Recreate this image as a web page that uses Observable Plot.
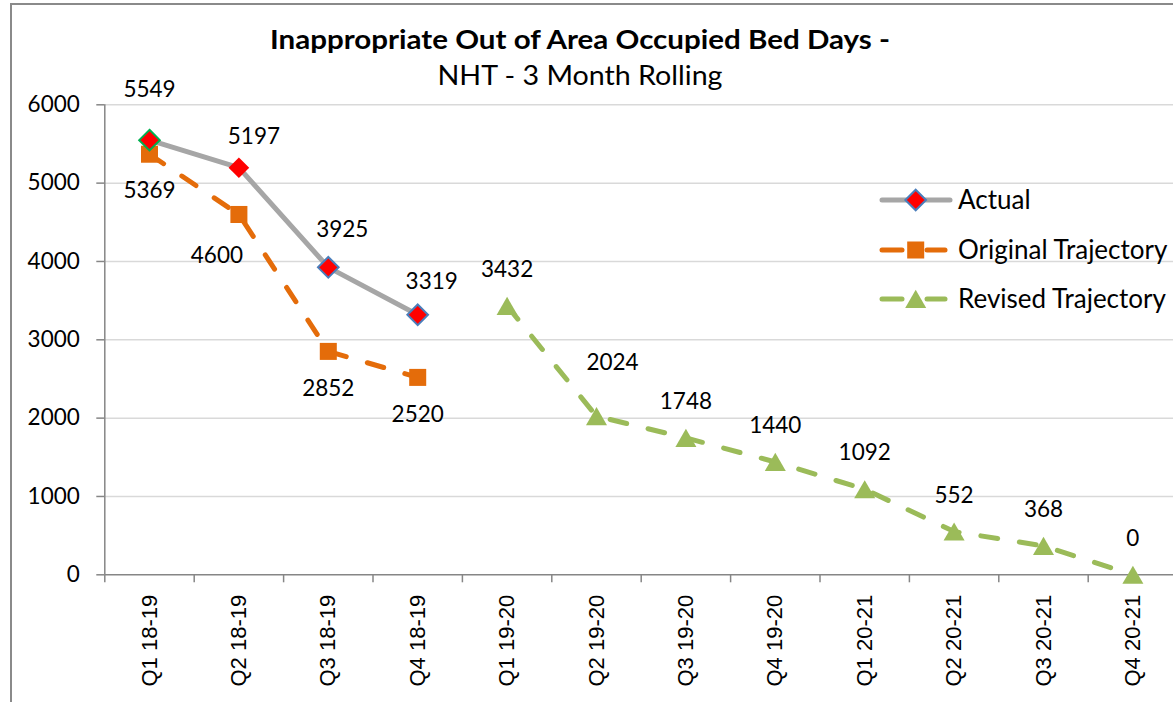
<!DOCTYPE html>
<html>
<head>
<meta charset="utf-8">
<script src="https://cdn.jsdelivr.net/npm/d3@7"></script>
<script src="https://cdn.jsdelivr.net/npm/@observablehq/plot@0.6"></script>
<style>
  html, body { margin: 0; padding: 0; background: #fff; overflow: hidden; }
  #wrap { position: relative; width: 1173px; height: 702px; overflow: hidden; background: #fff; color: #000; }
  #border { position: absolute; left: 10px; top: 3px; width: 3000px; height: 3000px; border: 2px solid #8a8a8a; box-sizing: border-box; pointer-events: none; }
  #chart, #overlay { position: absolute; left: 0; top: 0; }
  #overlay { pointer-events: none; }
</style>
</head>
<body>
<div id="wrap">
  <div id="border"></div>
  <div id="chart"></div>
  <svg id="overlay" width="1173" height="702" xmlns="http://www.w3.org/2000/svg"></svg>
</div>
<script>
// ---------- data ----------
const categories = ["Q1 18-19", "Q2 18-19", "Q3 18-19", "Q4 18-19",
                    "Q1 19-20", "Q2 19-20", "Q3 19-20", "Q4 19-20",
                    "Q1 20-21", "Q2 20-21", "Q3 20-21", "Q4 20-21"];
const actualCategories = ["Q1 18-19", "Q2 18-19", "Q3 18-19", "Q4 18-19"];
const actualValues = [5549, 5197, 3925, 3319];
const originalCategories = ["Q1 18-19", "Q2 18-19", "Q3 18-19", "Q4 18-19"];
const originalValues = [5369, 4600, 2852, 2520];
const revisedCategories = ["Q1 19-20", "Q2 19-20", "Q3 19-20", "Q4 19-20",
                           "Q1 20-21", "Q2 20-21", "Q3 20-21", "Q4 20-21"];
const revisedValues = [3432, 2024, 1748, 1440, 1092, 552, 368, 0];
const yTicks = [0, 1000, 2000, 3000, 4000, 5000, 6000];
const seriesNames = ["Actual", "Original Trajectory", "Revised Trajectory"];
const titleText = "Inappropriate Out of Area Occupied Bed Days -";
const subtitleText = "NHT - 3 Month Rolling";

// ---------- build tables ----------
const toRows = (cats, vals) => vals.map((v, k) => ({cat: cats[k], pos: categories.indexOf(cats[k]) + 0.5, v}));
const actual = toRows(actualCategories, actualValues);
const original = toRows(originalCategories, originalValues);
const revised = toRows(revisedCategories, revisedValues);

// ---------- styles ----------
const C = {actual: "#A6A6A6", original: "#E46C0A", revised: "#9BBB59", axis: "#868686", grid: "#D9D9D9"};
const dash = "17 22";
const numFont = "Lato, 'Open Sans', sans-serif";
const numSize = 22.5;

function labels(rows, def, over) {
  return rows.map(r => {
    const o = over[r.cat] || def;
    return Plot.text([r], {x: "pos", y: "v", text: d => String(d.v), dx: o[0], dy: o[1],
      fontSize: numSize, fontFamily: numFont, fill: "#000"});
  });
}
const actualOutline = c => c === "Q1 18-19" ? "#00B050" : c === "Q2 18-19" ? "none" : "#4A7EBB";

const plot = Plot.plot({
  width: 1173, height: 702,
  marginLeft: 104.3, marginRight: 0, marginTop: 104.3, marginBottom: 127.7,
  x: {type: "linear", domain: [0, 12], range: [104.3, 1177.1], axis: null, label: null},
  y: {domain: [0, 6000], range: [574.3, 104.3], axis: null, label: null},
  style: {background: "transparent", overflow: "hidden", color: "#000"},
  marks: [
    Plot.gridY({ticks: yTicks.filter(t => t > 0), stroke: C.grid, strokeOpacity: 1, strokeWidth: 1.5}),
    Plot.ruleY([0], {stroke: C.axis, strokeWidth: 1.5}),
    Plot.ruleX([0], {y1: 0, y2: 6000, stroke: C.axis, strokeWidth: 1.5}),
    Plot.axisY({ticks: yTicks, tickSize: 8, tickPadding: 17, stroke: C.axis, strokeWidth: 1.5, label: null,
      fontSize: numSize, fontFamily: numFont, tickFormat: d => String(d)}),
    Plot.axisX({ticks: d3.range(13), tickSize: 8, tickFormat: () => "", stroke: C.axis, strokeWidth: 1.5, label: null}),
    Plot.axisX({ticks: categories.map((c, k) => k + 0.5), tickSize: 0, tickPadding: 20, tickRotate: -90, label: null,
      tickFormat: v => categories[Math.floor(v)], fontSize: 22, fontFamily: "'Liberation Sans', Arial, sans-serif"}),
    Plot.line(original, {x: "pos", y: "v", stroke: C.original, strokeWidth: 5, strokeDasharray: dash, strokeLinecap: "round"}),
    Plot.line(revised, {x: "pos", y: "v", stroke: C.revised, strokeWidth: 5, strokeDasharray: dash, strokeLinecap: "round"}),
    Plot.line(actual, {x: "pos", y: "v", stroke: C.actual, strokeWidth: 5, strokeLinejoin: "round", strokeLinecap: "round"}),
    Plot.dot(original, {x: "pos", y: "v", symbol: "square", r: 9.6, fill: C.original, stroke: "none"}),
    Plot.dot(revised, {x: "pos", y: "v", symbol: "triangle", r: 7.8, dy: 3, fill: C.revised, stroke: "none"}),
    ...actual.map(r => Plot.dot([r], {x: "pos", y: "v", symbol: "diamond2", r: 9.3, fill: "#FF0000",
      stroke: actualOutline(r.cat), strokeWidth: 2})),
    ...labels(actual, [14, -33], {"Q1 18-19": [0, -50], "Q2 18-19": [15, -31], "Q3 18-19": [14, -38]}),
    ...labels(original, [0, 37], {"Q2 18-19": [-22, 41]}),
    ...labels(revised, [0, -36], {"Q2 19-20": [16, -53]})
  ]
});
document.getElementById("chart").appendChild(plot);

// ---------- title & legend (overlay) ----------
const ov = d3.select("#overlay");
ov.append("text").attr("x", 580).attr("y", 49).attr("text-anchor", "middle")
  .attr("font-family", numFont).attr("font-weight", "bold").attr("font-size", 27)
  .attr("textLength", 620).attr("lengthAdjust", "spacingAndGlyphs").text(titleText);
ov.append("text").attr("x", 580).attr("y", 85).attr("text-anchor", "middle")
  .attr("font-family", numFont).attr("font-size", 26)
  .attr("textLength", 285).attr("lengthAdjust", "spacingAndGlyphs").text(subtitleText);

const legY = [200, 250, 299];
const lg = ov.append("g");
// Actual
lg.append("line").attr("x1", 882).attr("x2", 950).attr("y1", legY[0]).attr("y2", legY[0])
  .attr("stroke", C.actual).attr("stroke-width", 5).attr("stroke-linecap", "round");
lg.append("path").attr("d", d3.symbol(d3.symbolDiamond2, 9.3 * 9.3 * Math.PI)())
  .attr("transform", `translate(915.7,${legY[0]})`).attr("fill", "#FF0000").attr("stroke", "#4A7EBB").attr("stroke-width", 2);
// Original
[[882, 902], [927, 945]].forEach(([a, b]) => lg.append("line").attr("x1", a).attr("x2", b)
  .attr("y1", legY[1]).attr("y2", legY[1]).attr("stroke", C.original).attr("stroke-width", 5).attr("stroke-linecap", "round"));
lg.append("path").attr("d", d3.symbol(d3.symbolSquare, 9.6 * 9.6 * Math.PI)())
  .attr("transform", `translate(915.7,${legY[1]})`).attr("fill", C.original);
// Revised
[[882, 902], [927, 945]].forEach(([a, b]) => lg.append("line").attr("x1", a).attr("x2", b)
  .attr("y1", legY[2]).attr("y2", legY[2]).attr("stroke", C.revised).attr("stroke-width", 5).attr("stroke-linecap", "round"));
lg.append("path").attr("d", d3.symbol(d3.symbolTriangle, 7.8 * 7.8 * Math.PI)())
  .attr("transform", `translate(915.7,${legY[2] + 3})`).attr("fill", C.revised);
seriesNames.forEach((s, k) => lg.append("text").attr("x", 958).attr("y", legY[k]).attr("dy", "0.35em")
  .attr("font-family", numFont).attr("font-size", 26).text(s));
</script>
</body>
</html>
